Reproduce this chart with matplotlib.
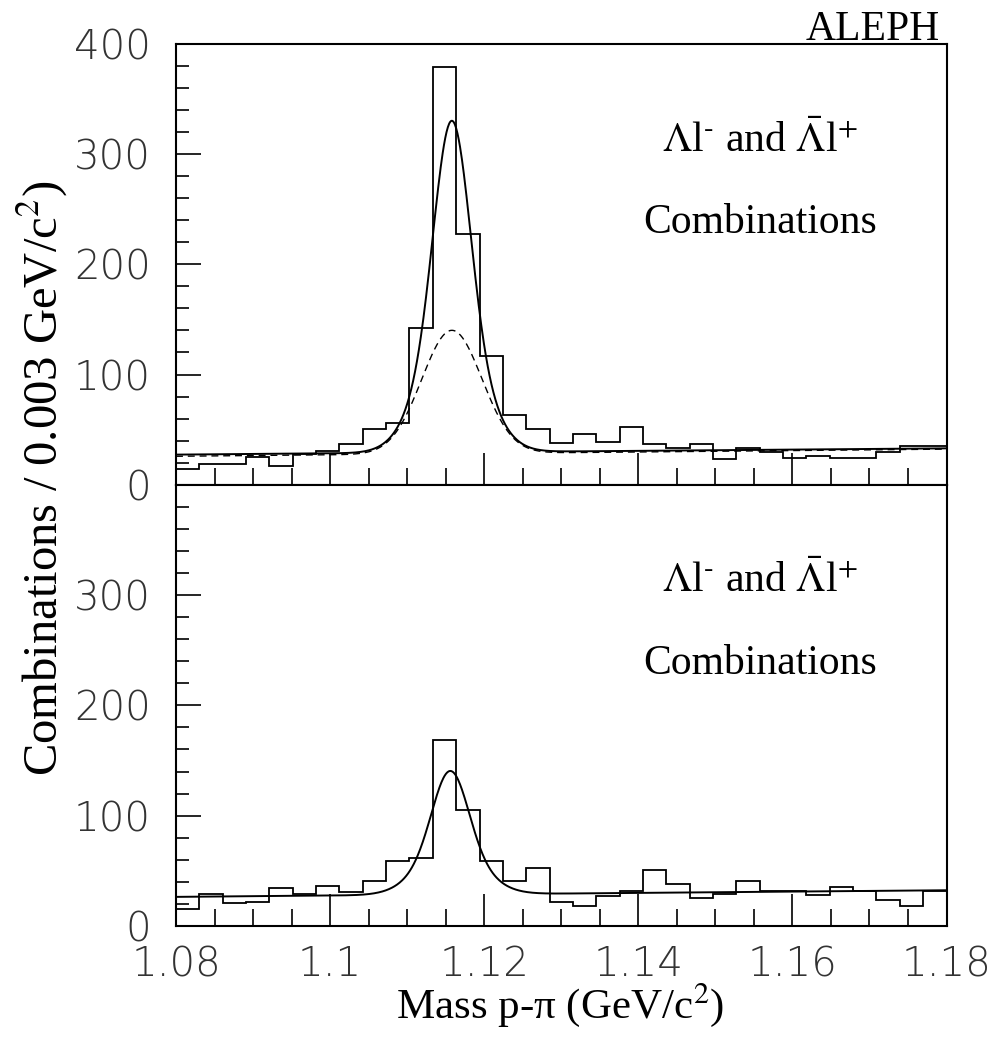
import numpy as np
import matplotlib
matplotlib.use("Agg")
import matplotlib.pyplot as plt
import matplotlib.font_manager as fm
from matplotlib.ticker import MultipleLocator, FixedLocator

# ---------------- data ----------------
mass_lo, mass_hi, n_bins = 1.08, 1.18, 33

top_counts = [14, 19, 19, 25, 17, 28, 31, 37, 51, 56, 142, 379, 228, 117, 63, 51,
              38, 46, 39, 52, 37, 33, 37, 23, 33, 30, 24, 26, 24, 24, 30, 35, 35]
bottom_counts = [15, 29, 21, 22, 34, 29, 36, 31, 41, 59, 62, 169, 105, 59, 41, 53,
                 22, 18, 27, 32, 51, 38, 25, 29, 41, 32, 32, 28, 35, 32, 24, 18, 32]

# fit parameters: [bg at 1.08, bg at 1.18, mean, A_narrow, sigma_narrow, A_wide, sigma_wide]
top_fit = [27.3, 33.0, 1.1158, 189.0, 0.00227, 112.0, 0.0039]
top_dashed_bg = [25.8, 32.3]
bottom_fit = [26.4, 32.4, 1.1156, 70.0, 0.00227, 42.0, 0.0039]

y_ticks_top = [0, 100, 200, 300, 400]
y_ticks_bottom = [0, 100, 200, 300]
x_ticks = [1.08, 1.10, 1.12, 1.14, 1.16, 1.18]
x_ticklabels = ["1.08", "1.1", "1.12", "1.14", "1.16", "1.18"]

panel_text_1 = r"$\Lambda$l$^{\text{-}}$ and $\bar{\Lambda}$l$^{+}$"
panel_text_2 = "Combinations"

# ---------------- fonts ----------------
def find_light_font():
    prefs = ["DejaVu Sans", "Roboto", "Lato", "Open Sans", "Inter", "Noto Sans"]
    best = None
    for fam in prefs:
        for f in fm.fontManager.ttflist:
            if f.name != fam or f.style != "normal":
                continue
            w = f.weight
            if isinstance(w, str):
                w = fm.weight_dict.get(w, 400)
            if w <= 300:
                if best is None or (fam == best[0] and w > best[1]):
                    best = (fam, w, f.fname)
        if best is not None:
            break
    return best

lf = find_light_font()
if lf is not None:
    tick_fp = fm.FontProperties(fname=lf[2], size=29)
else:
    tick_fp = fm.FontProperties(family="DejaVu Sans", weight="light", size=29)

plt.rcParams["mathtext.fontset"] = "stix"
serif = ["Liberation Serif", "DejaVu Serif"]

# ---------------- figure ----------------
fig = plt.figure(figsize=(9.99, 10.40), dpi=100)
L, R = 176 / 999, 946.5 / 999
ax_top = fig.add_axes([L, 1 - 484.7 / 1040, R - L, 440.7 / 1040])
ax_bot = fig.add_axes([L, 1 - 926 / 1040, R - L, 441.3 / 1040])

edges = np.linspace(mass_lo, mass_hi, n_bins + 1)
xs = np.linspace(mass_lo, mass_hi, 1200)

def bg(b, x):
    return b[0] + (b[1] - b[0]) * (x - mass_lo) / (mass_hi - mass_lo)

def gauss(a, mu, s, x):
    return a * np.exp(-0.5 * ((x - mu) / s) ** 2)

for ax, counts, p, yt in ((ax_top, top_counts, top_fit, y_ticks_top),
                          (ax_bot, bottom_counts, bottom_fit, y_ticks_bottom)):
    ax.stairs(counts, edges, color="black", lw=1.3, baseline=None)
    full = bg(p, xs) + gauss(p[3], p[2], p[4], xs) + gauss(p[5], p[2], p[6], xs)
    ax.plot(xs, full, color="black", lw=1.4)
    ax.set_xlim(mass_lo, mass_hi)
    ax.set_ylim(0, 400)
    ax.yaxis.set_major_locator(FixedLocator(yt))
    ax.yaxis.set_minor_locator(MultipleLocator(20))
    ax.xaxis.set_major_locator(FixedLocator(x_ticks))
    ax.xaxis.set_minor_locator(MultipleLocator(0.005))
    ax.tick_params(axis="y", which="major", direction="in", length=18, width=1.2,
                   left=True, right=False, pad=18, labelcolor="#333333")
    ax.tick_params(axis="y", which="minor", direction="in", length=9, width=1.2,
                   left=True, right=False)
    ax.tick_params(axis="x", which="major", direction="in", length=23, width=1.2,
                   bottom=True, top=False, pad=14, labelcolor="#333333")
    ax.tick_params(axis="x", which="minor", direction="in", length=12, width=1.2,
                   bottom=True, top=False)
    for sp in ax.spines.values():
        sp.set_linewidth(1.5)
    ax.set_yticklabels([str(v) for v in yt], fontproperties=tick_fp)
    ax.text(0.758, 0.78, panel_text_1, transform=ax.transAxes, ha="center",
            va="center", fontsize=30, family=serif)
    ax.text(0.758, 0.595, panel_text_2, transform=ax.transAxes, ha="center",
            va="center", fontsize=30, family=serif)

# dashed wide component in top panel
p = top_fit
ax_top.plot(xs, bg(top_dashed_bg, xs) + gauss(p[5], p[2], p[6], xs), color="black",
            lw=1.0, linestyle=(0, (5, 3.5)))

ax_top.tick_params(axis="x", labelbottom=False)
ax_bot.set_xticklabels(x_ticklabels, fontproperties=tick_fp)

fig.text(940 / 999, 1 - 40 / 1040, "ALEPH", ha="right", va="baseline",
         fontsize=30, family=serif)
fig.text(42 / 999, 1 - 478 / 1040, r"Combinations / 0.003 GeV/c$^{2}$)",
         rotation=90, ha="center", va="center", fontsize=35, family=serif)
fig.text(560 / 999, 1 - 1005 / 1040, "Mass p-\u03c0 (GeV/c$^{2}$)",
         ha="center", va="center", fontsize=31, family=serif)

fig.savefig("out.png", dpi=100)
